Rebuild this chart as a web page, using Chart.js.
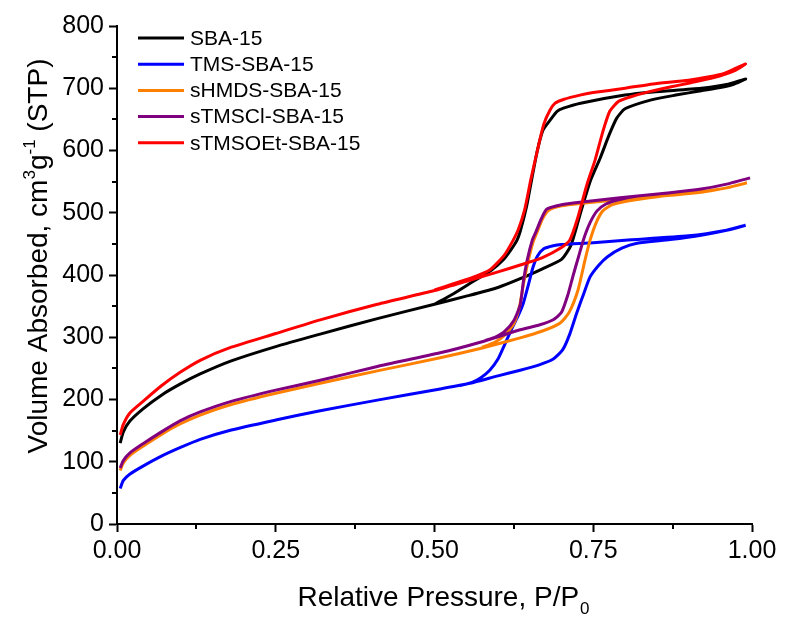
<!DOCTYPE html>
<html><head><meta charset="utf-8">
<script src="https://cdn.jsdelivr.net/npm/chart.js@4.4.0/dist/chart.umd.min.js"></script>
<style>html,body{margin:0;padding:0;background:#fff;}#wrap{width:785px;height:618px;}</style>
</head><body><div id="wrap"><canvas id="c" width="785" height="618"></canvas></div>
<script>
// ---- Data (relative pressure P/P0, volume cm3/g STP) ----
const seriesNames = ["SBA-15", "TMS-SBA-15", "sHMDS-SBA-15", "sTMSCl-SBA-15", "sTMSOEt-SBA-15"];
const seriesColors = ["#000000", "#0000ff", "#ff8000", "#800080", "#ff0000"];

const sba15Ads = [[0.005,130],[0.01,148],[0.02,165],[0.041,185],[0.07,207],[0.1,225],[0.131,241],[0.18,262],[0.25,285],[0.32,305],[0.41,330],[0.5,353],[0.55,366],[0.6,380],[0.635,394],[0.67,410],[0.7,425],[0.715,448],[0.73,500],[0.745,550],[0.761,588],[0.775,625],[0.787,652],[0.8,667],[0.84,681],[0.88,689],[0.92,696],[0.95,701],[0.97,706],[0.99,715]];
const sba15Des = [[0.99,715],[0.96,706],[0.92,700],[0.844,694],[0.8,689],[0.73,676],[0.703,668],[0.693,663],[0.683,650],[0.671,633],[0.662,600],[0.653,553],[0.645,510],[0.635,470],[0.63,456],[0.62,440],[0.608,424],[0.59,408],[0.56,389],[0.53,370],[0.5,353]];

const tmsAds = [[0.005,57],[0.01,70],[0.02,80],[0.041,93],[0.07,109],[0.1,123],[0.131,136],[0.18,151],[0.25,167],[0.32,182],[0.41,199],[0.509,217],[0.556,226],[0.6,238],[0.635,247],[0.666,256],[0.687,265],[0.702,280],[0.713,305],[0.724,339],[0.735,370],[0.745,397],[0.758,415],[0.772,429],[0.795,443],[0.819,451],[0.871,457],[0.92,464],[0.96,472],[0.99,480]];
const tmsDes = [[0.99,480],[0.96,472],[0.9,463],[0.8,456],[0.75,452],[0.7,449],[0.687,447],[0.672,442],[0.662,430],[0.655,412],[0.648,385],[0.64,355],[0.632,335],[0.62,310],[0.61,287],[0.6,265],[0.587,247],[0.573,235],[0.56,228],[0.54,222]];

const hmdsAds = [[0.005,86],[0.01,98],[0.02,110],[0.041,125],[0.07,144],[0.1,161],[0.131,175],[0.18,192],[0.25,210],[0.32,226],[0.41,246],[0.509,267],[0.572,282],[0.635,299],[0.67,310],[0.698,323],[0.712,340],[0.726,376],[0.737,424],[0.745,456],[0.755,485],[0.765,503],[0.78,513],[0.8,518],[0.83,523],[0.871,528],[0.92,533],[0.96,540],[0.992,548]];
const hmdsDes = [[0.992,548],[0.96,540],[0.92,534],[0.871,529],[0.8,522],[0.729,515],[0.7,511],[0.68,504],[0.67,490],[0.662,470],[0.655,452],[0.647,420],[0.64,385],[0.634,350],[0.625,322],[0.61,303],[0.595,292],[0.575,284]];

const tmsclAds = [[0.005,90],[0.01,102],[0.02,114],[0.041,129],[0.07,148],[0.1,166],[0.131,180],[0.18,197],[0.25,215],[0.32,231],[0.41,253],[0.509,275],[0.572,292],[0.635,312],[0.666,320],[0.687,328],[0.7,340],[0.71,368],[0.718,398],[0.727,430],[0.735,458],[0.745,484],[0.756,503],[0.77,514],[0.79,521],[0.82,527],[0.871,532],[0.92,538],[0.96,546],[0.997,556]];
const tmsclDes = [[0.997,556],[0.96,546],[0.92,538],[0.871,532],[0.792,524],[0.729,517],[0.7,513],[0.677,506],[0.668,490],[0.66,470],[0.654,456],[0.646,424],[0.64,390],[0.635,352],[0.625,327],[0.61,309],[0.595,300],[0.58,295]];

const tmsoetAds = [[0.005,143],[0.01,160],[0.02,178],[0.041,197],[0.07,222],[0.1,244],[0.131,263],[0.18,284],[0.25,306],[0.32,328],[0.41,353],[0.5,375],[0.55,390],[0.6,405],[0.635,416],[0.67,428],[0.7,444],[0.713,456],[0.725,490],[0.74,545],[0.753,585],[0.765,630],[0.776,663],[0.79,679],[0.808,686],[0.84,695],[0.871,702],[0.9,708],[0.94,717],[0.97,727],[0.99,739]];
const tmsoetDes = [[0.99,739],[0.97,730],[0.95,722],[0.9,713],[0.844,707],[0.8,700],[0.75,693],[0.729,689],[0.703,682],[0.69,676],[0.682,665],[0.672,642],[0.662,600],[0.652,555],[0.642,505],[0.632,473],[0.624,456],[0.61,432],[0.587,408],[0.56,396],[0.53,386],[0.5,376]];

const xTicks = [0, 0.25, 0.5, 0.75, 1.0];
const yTicks = [0, 100, 200, 300, 400, 500, 600, 700, 800];

const loops = [[sba15Ads, sba15Des], [tmsAds, tmsDes], [hmdsAds, hmdsDes], [tmsclAds, tmsclDes], [tmsoetAds, tmsoetDes]];

const FONT = "'Liberation Sans', Arial, sans-serif";

const datasets = loops.map((lp, i) => ({
  label: seriesNames[i],
  data: lp[0].concat(lp[1].slice(1)).map(p => ({x: p[0], y: p[1]})),
  borderColor: seriesColors[i],
  backgroundColor: seriesColors[i],
  borderWidth: 3,
  pointRadius: 0,
  showLine: true,
  tension: 0.2,
  fill: false,
  order: loops.length - i
}));

const extras = {
  id: 'extras',
  afterDraw(chart) {
    const ctx = chart.ctx;
    const xs = chart.scales.x, ys = chart.scales.y;
    const ca = chart.chartArea;
    ctx.save();
    // minor ticks
    ctx.strokeStyle = '#000'; ctx.lineWidth = 2;
    for (let i = 0; i < xTicks.length - 1; i++) {
      const v = (xTicks[i] + xTicks[i + 1]) / 2;
      const px = Math.round(xs.getPixelForValue(v));
      ctx.beginPath(); ctx.moveTo(px, ca.bottom); ctx.lineTo(px, ca.bottom + 5); ctx.stroke();
    }
    for (let i = 0; i < yTicks.length - 1; i++) {
      const v = (yTicks[i] + yTicks[i + 1]) / 2;
      const py = Math.round(ys.getPixelForValue(v));
      ctx.beginPath(); ctx.moveTo(ca.left, py); ctx.lineTo(ca.left - 5, py); ctx.stroke();
    }
    // legend
    ctx.font = '21px ' + FONT;
    ctx.textBaseline = 'middle';
    ctx.textAlign = 'left';
    seriesNames.forEach((n, i) => {
      const y = 38 + i * 26.2;
      ctx.strokeStyle = seriesColors[i]; ctx.lineWidth = 3;
      ctx.beginPath(); ctx.moveTo(138, y); ctx.lineTo(184, y); ctx.stroke();
      ctx.fillStyle = '#000';
      ctx.fillText(n, 190, y + 1);
    });
    // x title
    const fs = 28;
    const sfs = Math.round(fs * 0.6);
    ctx.fillStyle = '#000';
    ctx.textBaseline = 'alphabetic';
    const xMain = 'Relative Pressure, P/P';
    ctx.font = fs + 'px ' + FONT;
    const w1 = ctx.measureText(xMain).width;
    ctx.font = sfs + 'px ' + FONT;
    const w2 = ctx.measureText('0').width;
    let sx = 443 - (w1 + w2) / 2;
    ctx.font = fs + 'px ' + FONT;
    ctx.fillText(xMain, sx, 606);
    ctx.font = sfs + 'px ' + FONT;
    ctx.fillText('0', sx + w1 + 1, 614);
    // y title (rotated)
    const parts = [['Volume Absorbed, cm', 0], ['3', 1], ['g', 0], ['-1', 1], [' (STP)', 0]];
    let total = 0;
    parts.forEach(p => { ctx.font = (p[1] ? sfs : fs) + 'px ' + FONT; p.push(ctx.measureText(p[0]).width); total += p[2]; });
    ctx.translate(47, 256);
    ctx.rotate(-Math.PI / 2);
    let tx = -total / 2;
    parts.forEach(p => {
      ctx.font = (p[1] ? sfs : fs) + 'px ' + FONT;
      ctx.fillText(p[0], tx, p[1] ? -12 : 0);
      tx += p[2];
    });
    ctx.restore();
  }
};

new Chart(document.getElementById('c'), {
  type: 'scatter',
  data: { datasets },
  options: {
    responsive: false,
    animation: false,
    devicePixelRatio: 1,
    layout: { padding: { top: 26, right: 33, left: 0, bottom: 0 } },
    plugins: { legend: { display: false }, tooltip: { enabled: false } },
    scales: {
      x: {
        type: 'linear', min: 0, max: 1,
        afterFit: s => { s.height = 94; },
        afterBuildTicks: s => { s.ticks = xTicks.map(v => ({ value: v })); },
        ticks: { color: '#000', font: { family: FONT, size: 25 }, padding: 4, maxRotation: 0,
                 callback: v => Number(v).toFixed(2) },
        grid: { drawOnChartArea: false, drawTicks: true, tickLength: 8, tickWidth: 2, tickColor: '#000' },
        border: { display: true, color: '#000', width: 2 }
      },
      y: {
        type: 'linear', min: 0, max: 800,
        afterFit: s => { s.width = 117; },
        afterBuildTicks: s => { s.ticks = yTicks.map(v => ({ value: v })); },
        ticks: { color: '#000', font: { family: FONT, size: 25 }, padding: 5 },
        grid: { drawOnChartArea: false, drawTicks: true, tickLength: 8, tickWidth: 2, tickColor: '#000' },
        border: { display: true, color: '#000', width: 2 }
      }
    }
  },
  plugins: [extras]
});
</script>
</body></html>
